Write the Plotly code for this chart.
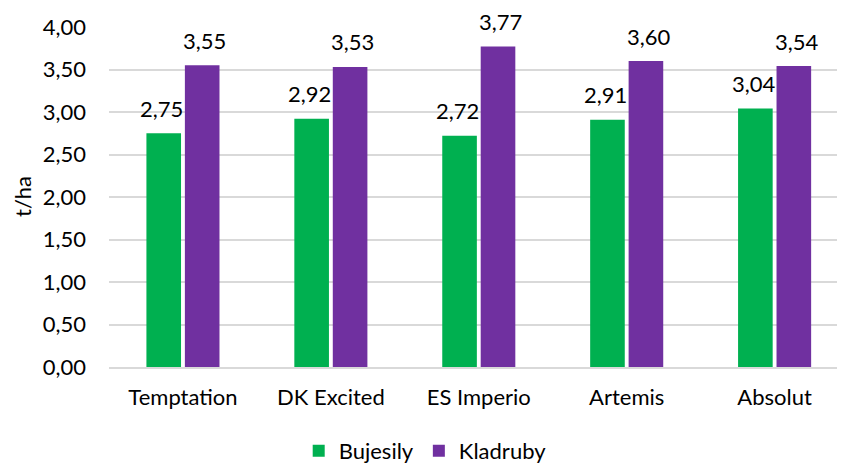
import plotly.graph_objects as go

categories = ["Temptation", "DK Excited", "ES Imperio", "Artemis", "Absolut"]
bujesily = [2.75, 2.92, 2.72, 2.91, 3.04]
kladruby = [3.55, 3.53, 3.77, 3.60, 3.54]
y_ticks = [0, 0.5, 1, 1.5, 2, 2.5, 3, 3.5, 4]
y_tick_labels = ["0,00", "0,50", "1,00", "1,50", "2,00", "2,50", "3,00", "3,50", "4,00"]

GREEN = "#00B050"
PURPLE = "#7030A0"
FONT = "Lato"
FS = 22

fig = go.Figure()
fig.add_trace(go.Bar(x=categories, y=bujesily, name="Bujesily", marker_color=GREEN,
                     marker_line_width=0))
fig.add_trace(go.Bar(x=categories, y=kladruby, name="Kladruby", marker_color=PURPLE,
                     marker_line_width=0))

def fmt(v):
    return f"{v:.2f}".replace(".", ",")

for cat, v in zip(categories, bujesily):
    fig.add_annotation(x=cat, y=v, text=fmt(v), showarrow=False, xshift=-21, yshift=25,
                       font=dict(family=FONT, size=FS, color="#000"))
for cat, v in zip(categories, kladruby):
    fig.add_annotation(x=cat, y=v, text=fmt(v), showarrow=False, xshift=22, yshift=25,
                       font=dict(family=FONT, size=FS, color="#000"))

fig.add_annotation(x=0, xref="paper", y=0.5, yref="paper", text="t/ha", textangle=-90,
                   showarrow=False, xanchor="center", yanchor="middle", xshift=-87,
                   font=dict(family=FONT, size=FS, color="#000"))

fig.update_layout(
    width=845, height=464,
    margin=dict(l=101, r=0, t=19, b=105),
    barmode="group", bargap=0.48, bargroupgap=0.1,
    plot_bgcolor="white", paper_bgcolor="white",
    font=dict(family=FONT, size=FS, color="#000"),
    showlegend=True,
    legend=dict(orientation="h", x=0.425, xanchor="center", xref="paper",
                y=-0.185, yanchor="top", font=dict(size=FS), itemwidth=30,
                tracegroupgap=0),
)
fig.update_xaxes(range=[-0.5, 4.53], showgrid=False, showline=True, linecolor="#D9D9D9",
                 linewidth=1.5, ticks="", ticklabelstandoff=10, tickfont=dict(size=FS),
                 automargin=False)
fig.update_yaxes(range=[0, 4], tickvals=y_ticks, ticktext=y_tick_labels, showgrid=True,
                 gridcolor="#D9D9D9", gridwidth=1.5, zeroline=False, showline=False,
                 ticks="", ticklabelstandoff=22, tickfont=dict(size=FS), automargin=False)

fig.write_html("out.html")
